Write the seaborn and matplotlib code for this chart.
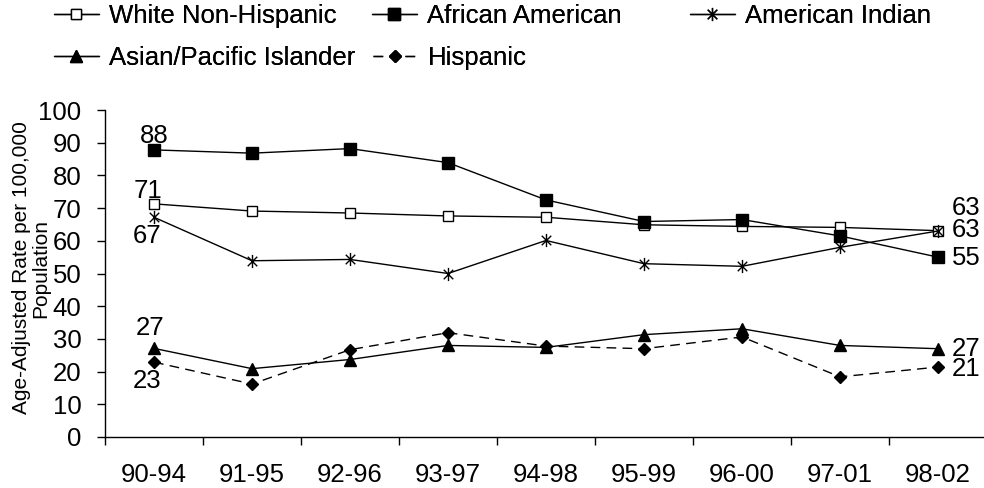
import numpy as np
import pandas as pd
import matplotlib
matplotlib.use("Agg")
import matplotlib.pyplot as plt
from matplotlib.path import Path
from matplotlib.ticker import FixedLocator, MultipleLocator
import seaborn as sns

periods = ["90-94", "91-95", "92-96", "93-97", "94-98", "95-99", "96-00", "97-01", "98-02"]
white = [71.3, 69.1, 68.5, 67.6, 67.2, 64.9, 64.4, 64.1, 63.1]
african = [87.8, 86.8, 88.2, 83.9, 72.5, 65.9, 66.5, 61.5, 55.0]
amind = [67.2, 53.9, 54.3, 50.0, 60.1, 53.0, 52.2, 58.0, 63.0]
asian = [27.1, 20.9, 23.7, 28.0, 27.4, 31.3, 33.1, 28.0, 27.0]
hispanic = [22.9, 16.2, 26.7, 31.9, 27.8, 27.0, 30.6, 18.4, 21.4]
names = ["White Non-Hispanic", "African American", "American Indian",
         "Asian/Pacific Islander", "Hispanic"]
ylabel = "Age-Adjusted Rate per 100,000\nPopulation"

sns.set_style("white")
plt.rcParams["font.family"] = ["Liberation Sans", "DejaVu Sans"]
plt.rcParams.update({"text.color": "black", "axes.labelcolor": "black",
                     "xtick.color": "black", "ytick.color": "black",
                     "axes.edgecolor": "black"})

W, H = 984, 488
fig = plt.figure(figsize=(W / 100, H / 100), dpi=100)
ax = fig.add_axes([105 / W, 1 - 437 / H, 882 / W, (437 - 110) / H])

# Excel-like star marker: an X with a vertical bar
d = 0.72
star = Path([(0, -1), (0, 1), (-d, -d), (d, d), (-d, d), (d, -d)],
            [Path.MOVETO, Path.LINETO, Path.MOVETO, Path.LINETO, Path.MOVETO, Path.LINETO])

styles = {
    "White Non-Hispanic": dict(marker="s", markersize=7.5, markerfacecolor="white",
                               markeredgecolor="black", markeredgewidth=1.0, linestyle="-"),
    "African American": dict(marker="s", markersize=8, markerfacecolor="black",
                             markeredgecolor="black", markeredgewidth=1.0, linestyle="-"),
    "American Indian": dict(marker=star, markersize=9.5, markerfacecolor="none",
                            markeredgecolor="black", markeredgewidth=1.0, linestyle="-"),
    "Asian/Pacific Islander": dict(marker="^", markersize=9, markerfacecolor="black",
                                   markeredgecolor="black", markeredgewidth=1.0, linestyle="-"),
    "Hispanic": dict(marker="D", markersize=6.5, markerfacecolor="black",
                     markeredgecolor="black", markeredgewidth=1.0, linestyle=(0, (7, 4.5))),
}
series = dict(zip(names, [white, african, amind, asian, hispanic]))

handles = {}
for name in names:
    df = pd.DataFrame({"period": periods, "value": series[name]})
    sns.lineplot(data=df, x="period", y="value", ax=ax, color="black", linewidth=1.0,
                 sort=False, label=name, **styles[name])
    handles[name] = ax.lines[-1]
if ax.get_legend() is not None:
    ax.get_legend().remove()

ax.set_xlim(-0.5, len(periods) - 0.5)
ax.set_ylim(0, 100)
ax.yaxis.set_major_locator(MultipleLocator(10))
ax.set_xlabel("")
ax.set_ylabel("")

for s in ["top", "right"]:
    ax.spines[s].set_visible(False)
for s in ["left", "bottom"]:
    ax.spines[s].set_color("black")
    ax.spines[s].set_linewidth(1.0)

fs = 18.5
ax.tick_params(axis="y", which="major", direction="out", length=6, width=1,
               color="black", labelcolor="black", pad=11, labelsize=fs, left=True)
ax.tick_params(axis="x", which="major", length=0, pad=19, labelsize=fs,
               labelcolor="black", bottom=True)
ax.xaxis.set_minor_locator(FixedLocator(np.arange(-0.5, len(periods), 1.0)))
ax.tick_params(axis="x", which="minor", direction="out", length=6, width=1,
               color="black", bottom=True)

fig.text(31 / W, 1 - 268 / H, ylabel, rotation=90, ha="center", va="center",
         fontsize=15, linespacing=1.05, color="black")

# data labels (offsets in points)
k = 0.72
n = len(periods) - 1
ann = [
    (0, african[0], 0, 14, "center"),
    (0, white[0], -6, 13, "center"),
    (0, amind[0], -7, -18.5, "center"),
    (0, asian[0], -3.5, 20, "center"),
    (0, hispanic[0], -6.5, -19, "center"),
    (n, amind[n], 14, 22.5, "left"),
    (n, white[n], 14, 0.5, "left"),
    (n, african[n], 14, -1, "left"),
    (n, asian[n], 14, 0, "left"),
    (n, hispanic[n], 14, -1.5, "left"),
]
for i, v, dx, dy, ha in ann:
    ax.annotate(f"{v:.0f}", xy=(i, v), xytext=(dx * k, dy * k), textcoords="offset points",
                ha=ha, va="center", fontsize=fs, color="black", annotation_clip=False)

# legend (grid of equal-width columns, two rows)
leg_pos = {
    "White Non-Hispanic": (54, 16),
    "African American": (372, 16),
    "American Indian": (690, 16),
    "Asian/Pacific Islander": (54, 58),
    "Hispanic": (373, 58),
}
for name in names:
    x, y = leg_pos[name]
    lg = fig.legend([handles[name]], [name], loc="center left",
                    bbox_to_anchor=(x / W, 1 - y / H), bbox_transform=fig.transFigure,
                    frameon=False, fontsize=fs, borderpad=0, borderaxespad=0,
                    handlelength=1.75, handletextpad=0.38, numpoints=1)
    fig.add_artist(lg)

fig.savefig("out.png", dpi=100)
